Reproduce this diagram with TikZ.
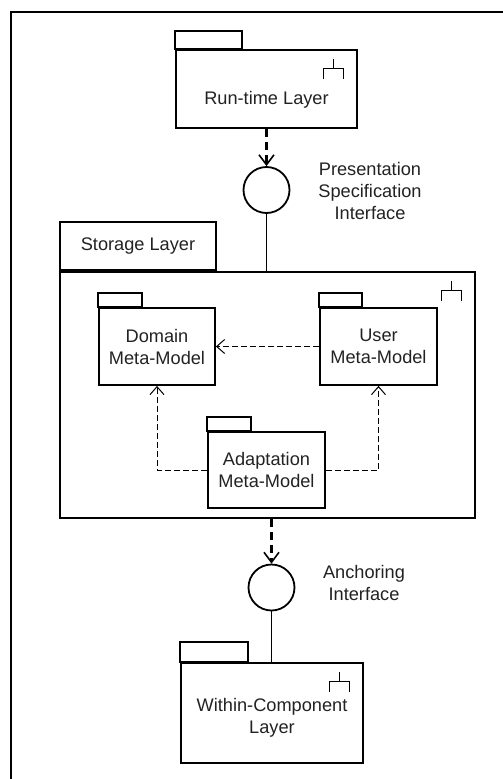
\documentclass[tikz,border=0pt]{standalone}
\usepackage{fontspec}
\setmainfont{Liberation Sans}
\usetikzlibrary{positioning,calc,arrows.meta}
\definecolor{InkGray}{HTML}{222222}

\tikzset{
  every node/.style={font=\fontsize{18.2pt}{22pt}\selectfont,text=InkGray},
  pkg/.style={draw,line width=1.8pt,align=center,inner sep=0pt},
  iface/.style={draw,circle,line width=1.8pt,minimum size=46pt,inner sep=0pt},
  lbl/.style={align=center,inner sep=0pt},
  uses/.style={line width=2.4pt,dash pattern=on 8pt off 5pt,-{Straight Barb[length=10pt,width=15pt,line width=1.6pt]}},
  dep/.style={line width=1pt,dash pattern=on 6pt off 3pt,-{Straight Barb[length=8pt,width=14pt,line width=1pt]}},
}
% tab on top of a package
\newcommand{\pkgtab}[2]{\draw[line width=1.8pt] (#1.north west) rectangle ++(#2,-14);}
% component icon in the upper right corner
\newcommand{\compicon}[1]{\draw[line width=1pt] ($(#1.north east)+(-24,10)$) -- ++(0,9)
  ($(#1.north east)+(-34,30)$) -- ++(0,-11) -- ++(20,0) -- ++(0,11);}

\begin{document}
\begin{tikzpicture}[x=1pt,y=-1pt]
  \useasboundingbox (0,0) rectangle (503,779);
  % frame
  \draw[line width=2pt] (11,779) -- (11,12) -- (503,12);

  % Run-time Layer
  \node[pkg,minimum width=181pt,minimum height=78pt,
    label={[yshift=-11pt]center:Run-time Layer}] (run) at (266.5,89) {};
  \draw[line width=1.8pt] (run.north west) rectangle ++(67,-18);
  \compicon{run}

  % Presentation Specification Interface
  \node[iface] (pres) at (266.5,190) {};
  \node[lbl] (preslbl) at (370,191) {Presentation\\Specification\\Interface};
  \draw[uses] (run.south) -- (pres.north);

  % Storage Layer
  \node[pkg,minimum width=415pt,minimum height=246pt] (store) at (267.5,395) {};
  \node[pkg,minimum width=156pt,minimum height=48pt,anchor=south west] (stab) at (store.north west) {Storage Layer};
  \compicon{store}
  \draw[line width=1.8pt] (pres.south) -- (pres.south |- store.north);

  % inner packages
  \node[pkg,minimum width=116pt,minimum height=77pt] (domain) at (157,346.5) {Domain\\Meta-Model};
  \pkgtab{domain}{44}
  \node[pkg,minimum width=117pt,minimum height=77pt] (user) at (378.5,346.5) {User\\Meta-Model};
  \pkgtab{user}{43}
  \node[pkg,minimum width=117pt,minimum height=76pt] (adapt) at (266.5,470) {Adaptation\\Meta-Model};
  \pkgtab{adapt}{44}

  \draw[dep] (user.west) -- (domain.east);
  \draw[dep] (adapt.west) -| (domain.south);
  \draw[dep] (adapt.east) -| (user.south);

  % Anchoring Interface
  \node[iface] (anch) at (271.5,587.5) {};
  \node[lbl] (anchlbl) at (364,583) {Anchoring\\Interface};
  \draw[uses] (anch.north |- store.south) -- (anch.north);

  % Within-Component Layer
  \node[pkg,minimum width=182pt,minimum height=100pt,
    label={[yshift=-5pt,align=center]center:Within-Component\\Layer}] (within) at (272,713) {};
  \draw[line width=1.8pt] (within.north west) rectangle ++(68,-20);
  \compicon{within}
  \draw[line width=1.8pt] (anch.south) -- (within.north -| anch.south);
\end{tikzpicture}
\end{document}
